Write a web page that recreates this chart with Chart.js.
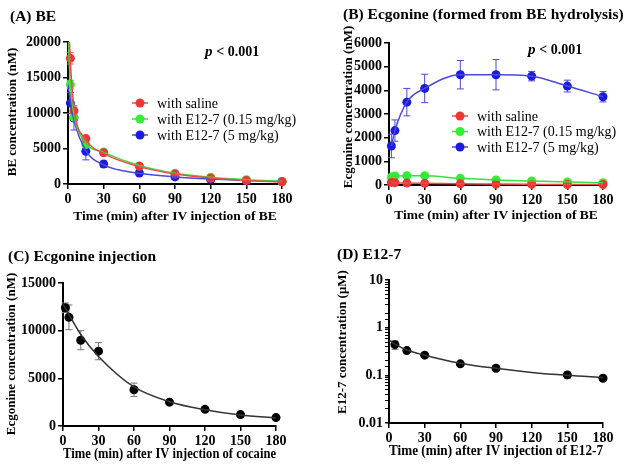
<!DOCTYPE html>
<html>
<head>
<meta charset="utf-8">
<script src="https://cdn.jsdelivr.net/npm/chart.js@4.4.1/dist/chart.umd.min.js"></script>
<style>
  html, body { margin: 0; padding: 0; background: #fff; }
  #wrap { position: relative; width: 629px; height: 466px; overflow: hidden; }
  canvas { position: absolute; }
</style>
</head>
<body>
<div id="wrap">
  <canvas id="cA" width="314" height="230" style="left:0;top:0"></canvas>
  <canvas id="cB" width="315" height="230" style="left:314px;top:0"></canvas>
  <canvas id="cC" width="314" height="236" style="left:0;top:230px"></canvas>
  <canvas id="cD" width="315" height="236" style="left:314px;top:230px"></canvas>
</div>
<script>
/* ---------- data ---------- */

// (A) BE after IV BE
var timesA      = [2, 5, 15, 30, 60, 90, 120, 150, 180];
var salineA     = [17700, 10300, 6400, 4400, 2500, 1400, 800, 500, 300];
var salineAErr  = [800, 400, 250, 150, 120, 100, 80, 60, 50];
var lowA        = [14000, 9400, 5550, 4500, 2550, 1500, 950, 600, 350];
var lowAErr     = [600, 500, 300, 200, 150, 100, 80, 60, 50];
var highA       = [11400, 9300, 4600, 2800, 1550, 1000, 650, 450, 350];
var highAErr    = [1500, 1700, 1200, 450, 250, 150, 100, 80, 60];
var fitTimesA   = [0, 2, 5, 15, 30, 60, 90, 120, 150, 180];
var salineFitA  = [25000, 17200, 10800, 6300, 4300, 2450, 1400, 850, 500, 300];
var lowFitA     = [21000, 14000, 9800, 5800, 4450, 2600, 1500, 950, 600, 380];
var highFitA    = [14000, 11600, 9000, 4700, 2700, 1500, 1000, 700, 500, 400];

// (B) ecgonine formed from BE hydrolysis
var timesB      = [2, 5, 15, 30, 60, 90, 120, 150, 180];
var salineB     = [110, 100, 80, 70, 50, 40, 30, 20, 20];
var lowB        = [340, 380, 390, 390, 280, 210, 170, 130, 100];
var smallErrB   = [40, 40, 40, 40, 30, 30, 20, 20, 20];
var highB       = [1650, 2300, 3500, 4080, 4660, 4660, 4600, 4180, 3730];
var highBErr    = [500, 450, 580, 600, 600, 640, 200, 250, 220];

// (C) ecgonine injection
var timesC      = [2, 5, 15, 30, 60, 90, 120, 150, 180];
var ecgC        = [12400, 11400, 9000, 7850, 3800, 2500, 1750, 1200, 880];
var ecgCErr     = [500, 1300, 1000, 900, 700, 250, 150, 120, 100];
var fitTimesC   = [0, 5, 15, 30, 60, 90, 120, 150, 180];
var fitC        = [12800, 11700, 9600, 7300, 4100, 2550, 1700, 1150, 850];

// (D) E12-7
var timesD      = [5, 15, 30, 60, 90, 150, 180];
var e12D        = [0.44, 0.33, 0.265, 0.174, 0.141, 0.102, 0.087];
var e12DErr     = [0.09, 0.03, 0.02, 0.015, 0.015, 0.015, 0.008];
var fitTimesD   = [0, 5, 15, 30, 60, 90, 120, 150, 180];
var fitD        = [0.55, 0.45, 0.34, 0.265, 0.18, 0.14, 0.115, 0.1, 0.09];

var legendLabels = ['with saline', 'with E12-7 (0.15 mg/kg)', 'with E12-7 (5 mg/kg)'];

/* ---------- styles ---------- */
var RED = '#ee3535', GREEN = '#33ee33', BLUE = '#1a1ae0';
var RED_L = '#ee4a4a', GREEN_L = '#3fdc3f', BLUE_L = '#4a4ad8';
var SERIF = "'Liberation Serif', 'Times New Roman', serif";
var tickFont = { family: SERIF, size: 14, weight: 'bold' };

function pts(xs, ys) { return xs.map(function (x, i) { return { x: x, y: ys[i] }; }); }

function fitSet(xs, ys, color) {
  return {
    data: pts(xs, ys), showLine: true, borderColor: color, borderWidth: 1.5,
    pointRadius: 0, pointHoverRadius: 0, cubicInterpolationMode: 'monotone', fill: false
  };
}
function dotSet(xs, ys, errs, color, errColor) {
  return {
    data: pts(xs, ys), showLine: false, pointRadius: 4.5, pointHoverRadius: 4.5,
    backgroundColor: color, borderColor: color, pointBorderWidth: 0,
    errors: errs, errColor: errColor, clip: false
  };
}

/* error bars drawn through the y scale */
var errorBars = {
  id: 'errorBars',
  beforeDatasetsDraw: function (chart) {
    var ctx = chart.ctx, ys = chart.scales.y;
    chart.data.datasets.forEach(function (ds, i) {
      if (!ds.errors) return;
      var meta = chart.getDatasetMeta(i);
      ctx.save();
      ctx.strokeStyle = ds.errColor; ctx.lineWidth = 1;
      meta.data.forEach(function (el, j) {
        var v = ds.data[j].y, e = ds.errors[j];
        var lo = v - e;
        if (ys.type === 'logarithmic' && lo <= 0) lo = v / 10;
        var y1 = ys.getPixelForValue(v + e), y2 = ys.getPixelForValue(lo);
        ctx.beginPath();
        ctx.moveTo(el.x, y1); ctx.lineTo(el.x, y2);
        ctx.moveTo(el.x - 3.5, y1); ctx.lineTo(el.x + 3.5, y1);
        ctx.moveTo(el.x - 3.5, y2); ctx.lineTo(el.x + 3.5, y2);
        ctx.stroke();
      });
      ctx.restore();
    });
  }
};

/* panel label, y title, p value, legend */
function deco(spec) {
  return {
    id: 'deco',
    afterDraw: function (chart) {
      var ctx = chart.ctx;
      ctx.save();
      ctx.fillStyle = '#000';
      ctx.textBaseline = 'middle';
      ctx.textAlign = 'left';
      ctx.font = 'bold 15.5px ' + SERIF;
      ctx.fillText(spec.title, spec.tx, spec.ty);

      ctx.save();
      ctx.translate(spec.yt[0], spec.yt[1]);
      ctx.rotate(-Math.PI / 2);
      ctx.textAlign = 'center';
      ctx.font = 'bold 13px ' + SERIF;
      ctx.fillText(spec.yTitle, 0, 0);
      ctx.restore();

      if (spec.p) {
        ctx.font = 'italic bold 15px ' + SERIF;
        ctx.fillText('p', spec.p[0], spec.p[1]);
        var w = ctx.measureText('p ').width;
        ctx.font = 'bold 14px ' + SERIF;
        ctx.fillText('< 0.001', spec.p[0] + w, spec.p[1]);
      }
      if (spec.legend) {
        var L = spec.legend;
        ctx.font = '14px ' + SERIF;
        L.items.forEach(function (it, k) {
          var y = L.y + k * L.dy;
          ctx.strokeStyle = it.line; ctx.lineWidth = 1.5;
          ctx.beginPath(); ctx.moveTo(L.x, y); ctx.lineTo(L.x + 16, y); ctx.stroke();
          ctx.fillStyle = it.dot;
          ctx.beginPath(); ctx.arc(L.x + 8, y, 4.5, 0, Math.PI * 2); ctx.fill();
          ctx.fillStyle = '#000';
          ctx.fillText(it.text, L.x + 25, y + 1);
        });
      }
      ctx.restore();
    }
  };
}

function axisCommon() {
  return {
    grid: { display: true, drawOnChartArea: false, drawTicks: true, tickLength: 5, color: '#000', lineWidth: 1.5 },
    border: { display: true, color: '#000', width: 2 }
  };
}

function plain(v) { return String(v); }

function makeChart(id, W, H, area, padBottom, xTitleSize, yOpts, xTitle, datasets, spec) {
  var xs = Object.assign(axisCommon(), {
    type: 'linear', min: 0, max: 180,
    ticks: { stepSize: 30, color: '#000', font: tickFont, padding: 2, maxRotation: 0, callback: plain },
    title: { display: true, text: xTitle, color: '#000',
             font: { family: SERIF, size: xTitleSize, weight: 'bold' }, padding: { top: 0, bottom: 2 } },
    afterFit: function (s) { s.height = H - padBottom - area.bottom; }
  });
  var ys = Object.assign(axisCommon(), yOpts, {
    afterFit: function (s) { s.width = area.left; }
  });
  ys.ticks = Object.assign({ color: '#000', font: tickFont, padding: 2, callback: plain }, yOpts.ticks);
  if (yOpts.grid) ys.grid = Object.assign(axisCommon().grid, yOpts.grid);

  return new Chart(document.getElementById(id), {
    type: 'scatter',
    data: { datasets: datasets },
    options: {
      responsive: false, animation: false, devicePixelRatio: 1,
      layout: { padding: { left: 0, top: area.top, right: W - area.right, bottom: padBottom } },
      plugins: { legend: { display: false }, tooltip: { enabled: false } },
      scales: { x: xs, y: ys }
    },
    plugins: [errorBars, deco(spec)]
  });
}

/* ---------- (A) ---------- */
makeChart('cA', 314, 230, { left: 68, right: 282, top: 42, bottom: 184 }, 3, 13.5,
  { type: 'linear', min: 0, max: 20000, ticks: { stepSize: 5000 } },
  'Time (min) after IV injection of BE',
  [
    fitSet(fitTimesA, salineFitA, RED_L),
    fitSet(fitTimesA, lowFitA, GREEN_L),
    fitSet(fitTimesA, highFitA, BLUE_L),
    dotSet(timesA, salineA, salineAErr, RED, RED_L),
    dotSet(timesA, lowA, lowAErr, GREEN, GREEN_L),
    dotSet(timesA, highA, highAErr, BLUE, BLUE_L)
  ],
  { title: '(A) BE', tx: 10, ty: 17, p: [205, 52],
    yTitle: 'BE concentration (nM)', yt: [13, 112],
    legend: { x: 132, y: 103, dy: 16, items: [
      { line: RED_L, dot: RED, text: legendLabels[0] },
      { line: GREEN_L, dot: GREEN, text: legendLabels[1] },
      { line: BLUE_L, dot: BLUE, text: legendLabels[2] }
    ] } });

/* ---------- (B) ---------- */
makeChart('cB', 315, 230, { left: 75, right: 289, top: 43, bottom: 185 }, 4, 13.5,
  { type: 'linear', min: 0, max: 6000, ticks: { stepSize: 1000 } },
  'Time (min) after IV injection of BE',
  [
    fitSet(timesB, salineB, RED_L),
    fitSet(timesB, lowB, GREEN_L),
    fitSet(timesB, highB, BLUE_L),
    dotSet(timesB, salineB, smallErrB, RED, RED_L),
    dotSet(timesB, lowB, smallErrB, GREEN, GREEN_L),
    dotSet(timesB, highB, highBErr, BLUE, BLUE_L)
  ],
  { title: '(B) Ecgonine (formed from BE hydrolysis)', tx: 29, ty: 15, p: [214, 50],
    yTitle: 'Ecgonine concentration (nM)', yt: [35, 107],
    legend: { x: 138, y: 116, dy: 15.5, items: [
      { line: RED_L, dot: RED, text: legendLabels[0] },
      { line: GREEN_L, dot: GREEN, text: legendLabels[1] },
      { line: BLUE_L, dot: BLUE, text: legendLabels[2] }
    ] } });

/* ---------- (C) ---------- */
makeChart('cC', 314, 236, { left: 63, right: 276, top: 53, bottom: 196 }, 1, 14.5,
  { type: 'linear', min: 0, max: 15000, ticks: { stepSize: 5000 } },
  'Time (min) after IV injection of cocaine',
  [
    fitSet(fitTimesC, fitC, '#333'),
    dotSet(timesC, ecgC, ecgCErr, '#000', '#777')
  ],
  { title: '(C) Ecgonine injection', tx: 8, ty: 27,
    yTitle: 'Ecgonine concentration (nM)', yt: [12, 124] });

/* ---------- (D) ---------- */
makeChart('cD', 315, 236, { left: 75, right: 289, top: 50, bottom: 193 }, 4, 14,
  { type: 'logarithmic', min: 0.01, max: 10,
    grid: { tickLength: 4, lineWidth: function (c) {
      var l = Math.log10(c.tick ? c.tick.value : 1);
      return Math.abs(l - Math.round(l)) < 1e-6 ? 1.5 : 1;
    } },
    ticks: { autoSkip: false, callback: function (v) {
      var l = Math.log10(v);
      return Math.abs(l - Math.round(l)) < 1e-6 ? String(+v.toPrecision(1)) : '';
    } } },
  'Time (min) after IV injection of E12-7',
  [
    fitSet(fitTimesD, fitD, '#333'),
    dotSet(timesD, e12D, e12DErr, '#000', '#777')
  ],
  { title: '(D) E12-7', tx: 23, ty: 25,
    yTitle: 'E12-7 concentration (\u03bcM)', yt: [29, 112] });
</script>
</body>
</html>
